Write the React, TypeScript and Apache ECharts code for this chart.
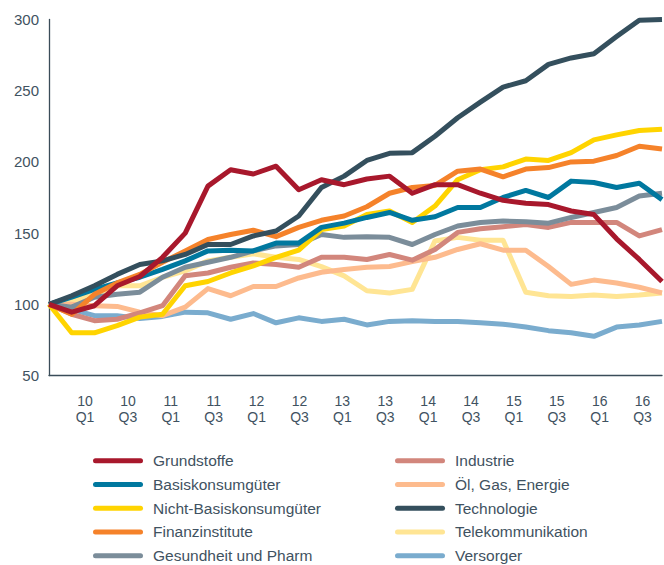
import React, { useEffect, useRef } from "react";
import * as echarts from "echarts";

const quarters = [
  "09 Q4",
  "10 Q1", "10 Q2", "10 Q3", "10 Q4",
  "11 Q1", "11 Q2", "11 Q3", "11 Q4",
  "12 Q1", "12 Q2", "12 Q3", "12 Q4",
  "13 Q1", "13 Q2", "13 Q3", "13 Q4",
  "14 Q1", "14 Q2", "14 Q3", "14 Q4",
  "15 Q1", "15 Q2", "15 Q3", "15 Q4",
  "16 Q1", "16 Q2", "16 Q3",
];

const tickLabels = [
  "10\nQ1", "10\nQ3", "11\nQ1", "11\nQ3", "12\nQ1", "12\nQ3", "13\nQ1",
  "13\nQ3", "14\nQ1", "14\nQ3", "15\nQ1", "15\nQ3", "16\nQ1", "16\nQ3",
];

const grundstoffe = [100, 94.5, 99, 113, 119.5, 133, 150, 183, 194.5, 191.5, 197, 180.5, 187.5, 184, 188, 190, 178, 184, 184, 178, 173, 171, 170, 165.5, 163, 146, 131.5, 116];
const basiskonsum = [100, 105, 110.5, 115, 119, 124.5, 130.5, 137.5, 138, 137.5, 143, 143, 154, 157, 161, 164.5, 159, 161.5, 168, 168, 175, 180, 175, 186.5, 185.5, 182, 185, 173.5];
const nichtBasis = [100, 80, 80, 85, 91, 93, 113, 116, 122, 127, 133, 138, 152.5, 155, 163, 165.5, 157.5, 169, 187.5, 194.5, 196.5, 202, 201, 206.5, 215.5, 219, 222, 223];
const finanz = [100, 93, 107, 115, 121, 129.5, 137.5, 145.5, 149, 152, 147.5, 154, 159, 162, 168.5, 178, 182, 183.5, 193.5, 195, 189.5, 195, 196, 200, 200.5, 204.5, 211, 209];
const gesundheit = [100, 98, 105, 107, 108.5, 119, 126, 129.5, 133, 137.5, 141, 142, 149, 147, 147.5, 147, 142, 149, 155, 157.5, 158.5, 158, 157, 161, 164.5, 168, 176, 178];
const industrie = [100, 93, 88.5, 89.5, 94, 99, 120, 122, 126, 129, 128, 126, 133, 133, 131.5, 135, 131, 138.5, 150.5, 153, 154.5, 156, 154, 157.5, 157.5, 157.5, 148, 152.5];
const oel = [100, 100, 99, 98.5, 94.5, 92, 98, 111, 106, 112.5, 112.5, 118.5, 122.5, 124.5, 126, 126.5, 130, 133, 138.5, 142.5, 138, 138, 126.5, 114, 117, 115, 112, 108];
const technologie = [100, 106, 113, 121, 128, 130.5, 135, 142, 142, 148, 151.5, 162, 182, 190, 201, 206, 206.5, 218, 231, 242, 252.5, 257, 268.5, 273, 276, 288, 299.5, 300];
const telekom = [100, 102, 107, 113, 113, 119, 123.5, 130.5, 133, 135.5, 133, 131.5, 126.5, 120, 109.5, 108, 110.5, 144.5, 147, 145, 145, 108.5, 106, 105.5, 106.5, 105.5, 106.5, 108];
const versorger = [100, 96.5, 92, 92, 90, 91.5, 94.5, 94, 89.5, 93.5, 87, 90.5, 88, 89.5, 85.5, 88, 88.5, 88, 88, 87, 86, 84, 81.5, 80, 77.5, 84, 85.5, 88];

const yTicks = [50, 100, 150, 200, 250, 300];

const leftNames = ["Grundstoffe", "Basiskonsumgüter", "Nicht-Basiskonsumgüter", "Finanzinstitute", "Gesundheit und Pharm"];
const rightNames = ["Industrie", "Öl, Gas, Energie", "Technologie", "Telekommunikation", "Versorger"];

const seriesDefs = [
  { name: "Versorger", data: versorger, color: "#7aacce" },
  { name: "Telekommunikation", data: telekom, color: "#ffe594" },
  { name: "Öl, Gas, Energie", data: oel, color: "#fdbb8e" },
  { name: "Industrie", data: industrie, color: "#d2867c" },
  { name: "Gesundheit und Pharm", data: gesundheit, color: "#7b8d9a" },
  { name: "Nicht-Basiskonsumgüter", data: nichtBasis, color: "#ffd400" },
  { name: "Basiskonsumgüter", data: basiskonsum, color: "#00789f" },
  { name: "Finanzinstitute", data: finanz, color: "#f5822a" },
  { name: "Technologie", data: technologie, color: "#344f5d" },
  { name: "Grundstoffe", data: grundstoffe, color: "#a8182c" },
];

const TEXT = "#3f5261";
const AXIS = "#3a4c59";
const FONT = "'Liberation Sans', Arial, Helvetica, sans-serif";
const ICON = "path://M2.5,0H47.5A2.5,2.5,0,0,1,47.5,5H2.5A2.5,2.5,0,0,1,2.5,0Z";

export default function App() {
  const ref = useRef<HTMLDivElement>(null);
  useEffect(() => {
    if (!ref.current) return;
    const chart = echarts.init(ref.current, null, { renderer: "svg" });
    const legendCommon = {
      orient: "vertical" as const,
      top: 451.7,
      height: 113,
      padding: 0,
      itemWidth: 50,
      itemHeight: 5,
      itemGap: 5.75,
      icon: ICON,
      selectedMode: false,
      textStyle: {
        color: TEXT,
        fontSize: 15.5,
        fontFamily: FONT,
        lineHeight: 18,
        padding: [0, 0, 0, 5],
      },
    };
    chart.setOption({
      animation: false,
      backgroundColor: "#ffffff",
      grid: [
        { left: 49, right: 2, top: 19.5, height: 356, containLabel: false },
        { left: 63.6, width: 608.2, top: 19.5, height: 356, containLabel: false },
      ],
      xAxis: [
        {
          type: "category",
          gridIndex: 0,
          data: quarters,
          boundaryGap: false,
          axisLine: { show: true, lineStyle: { color: AXIS, width: 1.3 } },
          axisTick: { show: false },
          axisLabel: { show: false },
          splitLine: { show: false },
        },
        {
          type: "category",
          gridIndex: 1,
          data: tickLabels,
          boundaryGap: true,
          axisLine: { show: false },
          axisTick: { show: false },
          splitLine: { show: false },
          axisLabel: {
            show: true,
            interval: 0,
            margin: 18,
            color: TEXT,
            fontSize: 14,
            lineHeight: 15.5,
            fontFamily: FONT,
          },
        },
      ],
      yAxis: [
        {
          type: "value",
          gridIndex: 0,
          min: yTicks[0],
          max: yTicks[yTicks.length - 1],
          interval: 50,
          axisLine: { show: true, lineStyle: { color: AXIS, width: 1.3 } },
          axisTick: { show: false },
          splitLine: { show: false },
          axisLabel: { color: TEXT, fontSize: 15, fontFamily: FONT, margin: 10 },
        },
        {
          type: "value",
          gridIndex: 1,
          min: 50,
          max: 300,
          show: false,
        },
      ],
      legend: [
        { ...legendCommon, left: 93, data: leftNames },
        { ...legendCommon, left: 395, data: rightNames },
      ],
      series: seriesDefs.map((s, i) => ({
        name: s.name,
        type: "line",
        xAxisIndex: 0,
        yAxisIndex: 0,
        data: s.data,
        symbol: "none",
        z: 2 + i * 0.01,
        color: s.color,
        lineStyle: { color: s.color, width: 5, join: "round" },
      })),
    });
    return () => chart.dispose();
  }, []);
  return (
    <div
      ref={ref}
      style={{ position: "absolute", left: 0, top: 0, width: 664, height: 565 }}
    />
  );
}
